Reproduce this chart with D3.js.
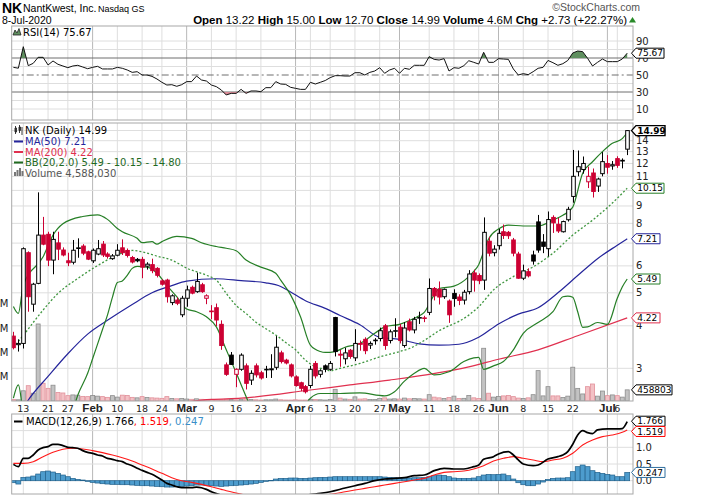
<!DOCTYPE html>
<html>
<head>
<meta charset="utf-8">
<script src="https://cdn.jsdelivr.net/npm/d3@7"></script>
<style>
body { margin: 0; background: #fff; }
svg { display: block; }
</style>
</head>
<body>
<svg id="chart" width="714" height="497"></svg>
<script>
// ---- data (NK daily, Jan 9 - Jul 8 2020) ----
const days = [
  "01-09","01-10","01-13","01-14","01-15","01-16","01-17","01-21","01-22","01-23","01-24","01-27","01-28","01-29","01-30","01-31",
  "02-03","02-04","02-05","02-06","02-07","02-10","02-11","02-12","02-13","02-14","02-18","02-19","02-20","02-21","02-24","02-25","02-26","02-27","02-28",
  "03-02","03-03","03-04","03-05","03-06","03-09","03-10","03-11","03-12","03-13","03-16","03-17","03-18","03-19","03-20","03-23","03-24","03-25","03-26","03-27","03-30","03-31",
  "04-01","04-02","04-03","04-06","04-07","04-08","04-09","04-13","04-14","04-15","04-16","04-17","04-20","04-21","04-22","04-23","04-24","04-27","04-28","04-29","04-30",
  "05-01","05-04","05-05","05-06","05-07","05-08","05-11","05-12","05-13","05-14","05-15","05-18","05-19","05-20","05-21","05-22","05-26","05-27","05-28","05-29",
  "06-01","06-02","06-03","06-04","06-05","06-08","06-09","06-10","06-11","06-12","06-15","06-16","06-17","06-18","06-19","06-22","06-23","06-24","06-25","06-26","06-29","06-30",
  "07-01","07-02","07-06","07-07","07-08"];

const opens = [
  3.73,3.52,3.55,6.56,4.63,5.33,7.39,7.43,6.24,7.01,6.68,6.21,6.15,6.75,6.86,6.60,
  6.21,6.50,6.95,6.50,6.30,6.45,6.78,6.66,6.35,6.27,6.27,5.99,6.05,5.90,5.42,5.45,4.68,4.76,4.31,
  4.82,5.19,5.04,5.28,4.82,4.42,4.52,4.04,3.07,3.28,2.88,2.98,3.05,2.77,3.05,2.91,2.97,2.97,3.02,3.33,3.17,3.07,
  2.83,2.72,2.65,2.67,3.10,2.88,3.05,2.98,4.23,3.30,3.20,3.39,3.22,3.55,3.65,3.51,3.62,3.67,4.00,3.62,3.86,
  3.96,3.50,4.11,3.89,4.22,4.21,4.38,5.15,5.12,4.87,4.73,4.98,4.86,4.76,5.04,5.72,5.62,5.45,7.09,6.56,
  6.88,7.56,7.53,7.15,6.50,5.52,5.77,6.46,8.08,7.05,6.74,8.33,7.95,7.56,8.20,9.60,11.35,11.52,10.60,11.25,10.30,11.20,
  12.00,11.80,12.40,12.20,13.22];
const highs = [
  3.84,3.65,6.80,6.62,5.35,9.87,8.36,7.56,7.56,7.56,6.80,6.56,7.15,7.23,6.95,6.65,
  6.75,7.15,7.10,6.58,6.50,6.95,7.18,6.75,6.42,6.33,6.38,6.15,6.30,5.95,5.48,5.50,4.95,4.85,4.90,
  5.25,5.25,5.73,5.35,4.95,4.60,4.65,4.15,3.12,3.35,3.00,3.32,3.10,2.96,3.10,2.95,3.05,3.30,3.73,3.38,3.20,3.10,
  2.86,2.74,2.68,3.05,3.15,2.98,3.08,3.15,4.25,3.40,3.45,3.42,3.91,3.62,3.70,3.60,3.68,3.95,4.05,3.90,4.21,
  4.05,4.10,4.20,4.25,4.40,4.28,5.51,5.20,5.40,5.15,4.78,5.12,4.95,5.10,5.83,5.85,5.70,8.33,7.30,6.90,
  7.70,7.94,7.60,7.25,6.60,6.05,5.90,6.65,8.47,7.44,8.67,8.45,8.30,8.15,8.95,13.15,13.10,12.58,11.74,11.60,10.90,12.96,
  12.70,12.20,12.60,12.42,15.00];
const lows = [
  3.41,3.36,3.43,4.40,4.40,5.30,6.90,5.99,5.67,6.24,6.40,5.99,6.06,6.34,6.45,6.24,
  6.12,6.45,6.37,6.30,6.25,6.40,6.46,6.35,6.10,6.15,5.52,5.85,5.71,5.55,5.25,4.68,4.60,4.60,4.24,
  4.55,4.95,5.00,5.00,4.63,4.18,3.99,3.40,2.85,3.07,2.64,2.95,2.60,2.68,2.82,2.78,2.81,2.81,2.97,3.10,3.08,2.82,
  2.65,2.57,2.53,2.62,2.80,2.82,2.92,2.95,3.25,3.03,3.08,3.20,3.15,3.38,3.30,3.42,3.52,3.60,3.40,3.55,3.70,
  3.55,3.45,3.85,3.80,4.05,4.10,4.30,4.75,4.62,4.80,4.08,4.55,4.60,4.62,4.95,5.04,5.30,5.10,6.40,6.40,
  6.70,7.20,7.20,6.40,5.50,5.45,5.55,6.05,6.56,6.54,6.40,7.50,7.50,7.52,8.10,9.20,11.00,11.20,10.16,9.53,9.90,11.00,
  11.20,11.50,11.65,11.61,12.70];
const closes = [
  3.45,3.55,6.74,4.87,5.30,7.39,6.95,6.24,7.18,6.72,6.46,6.13,6.67,6.78,6.54,6.28,
  6.67,6.74,6.46,6.40,6.42,6.67,6.56,6.44,6.16,6.21,5.95,6.07,5.81,5.63,5.30,4.87,4.90,4.66,4.82,
  5.10,4.99,5.40,5.04,4.90,4.40,4.16,3.50,2.88,3.08,2.98,3.28,2.71,2.90,2.87,2.81,2.98,2.99,3.46,3.14,3.11,2.85,
  2.67,2.62,2.56,2.98,2.85,2.95,2.98,3.10,3.36,3.28,3.33,3.25,3.55,3.53,3.38,3.55,3.63,3.87,3.50,3.84,3.87,
  3.62,3.94,3.89,4.18,4.23,4.22,5.15,4.90,4.86,5.12,4.31,4.81,4.75,5.02,5.68,5.45,5.43,7.53,6.54,6.72,
  7.48,7.37,7.36,6.54,5.52,5.80,5.61,6.20,6.68,6.85,8.21,8.03,7.60,8.10,8.80,11.00,11.74,12.00,11.00,9.93,10.80,12.15,
  11.70,11.90,11.85,12.26,14.99];
// volume in millions of shares
const volumes = [
  0.6,0.5,4.2,6.3,3.2,31.7,7.3,5.2,6.5,3.5,3.3,2.2,2.5,2.4,1.9,1.8,
  2.3,2.0,1.8,1.5,2.2,1.6,2.4,2.3,1.5,1.3,1.8,1.4,1.3,1.2,1.1,1.8,1.0,0.9,1.0,
  0.8,0.7,0.9,0.7,0.6,0.6,0.5,0.5,0.7,0.6,0.5,0.7,0.9,0.6,0.5,0.4,0.5,0.5,0.8,0.5,0.4,0.4,
  0.5,0.4,0.4,0.7,0.6,0.5,0.4,0.6,4.8,1.2,0.8,0.7,1.7,0.8,0.9,0.6,0.6,1.0,1.3,0.8,0.9,
  0.8,1.2,0.9,1.0,0.9,0.8,2.6,1.6,1.3,1.0,1.4,2.0,1.0,1.1,2.3,1.3,1.0,21.7,3.2,1.6,
  1.9,2.1,2.3,1.8,1.2,1.0,1.3,2.6,12.5,2.1,5.9,2.1,2.1,1.4,2.0,13.9,5.2,2.9,5.9,7.0,2.0,4.1,
  2.2,2.5,2.2,1.6,4.588];

// overlays: [bar index, value]
const ma50 = [[2,2.30],[3,2.42],[7,2.84],[11,3.31],[15,3.78],[19,4.15],[24,4.62],[28,5.00],[32,5.25],[35,5.41],[41,5.50],[46,5.43],
  [51,5.35],[54,5.22],[56,5.03],[59,4.74],[63,4.50],[66,4.29],[70,4.03],[74,3.70],[78,3.65],[82,3.54],[86,3.51],[90,3.53],
  [94,3.70],[98,4.05],[102,4.33],[106,4.52],[110,5.00],[114,5.62],[118,6.30],[122,6.90],[124,7.21]];
const ma200 = [[32,2.36],[40,2.43],[46,2.45],[60,2.59],[68,2.68],[76,2.77],[92,3.03],[98,3.19],[106,3.40],[114,3.74],[124,4.22]];
const bbUpper = [[0,4.56],[1,4.35],[2,5.26],[6,6.38],[8,7.39],[10,7.98],[14,8.38],[17,8.47],[19,8.22],[21,7.73],[22,7.56],[25,7.23],
  [26,7.02],[28,7.07],[29,6.95],[30,7.07],[32,7.28],[33,7.33],[36,7.23],[38,7.02],[41,6.84],[43,6.76],[45,6.65],[47,6.24],[50,5.95],
  [53,5.71],[54,5.45],[56,4.93],[58,4.25],[60,3.51],[62,3.36],[63,3.34],[65,3.36],[67,3.46],[70,3.55],[73,3.80],[75,3.97],[78,4.04],
  [81,4.21],[82,4.28],[83,4.38],[85,4.93],[86,5.15],[89,5.23],[92,5.58],[93,5.78],[94,6.05],[95,6.60],[96,7.20],[98,7.70],[100,7.91],
  [103,7.86],[106,7.86],[109,8.18],[111,8.45],[113,8.93],[115,11.24],[117,12.14],[119,13.00],[121,13.75],[123,14.20],[124,14.80]];
const bbMiddle = [[0,3.45],[2,3.75],[6,4.45],[9,4.98],[13,5.51],[17,6.01],[21,6.46],[24,6.66],[26,6.60],[29,6.41],[32,6.24],[35,5.91],
  [39,5.63],[41,5.45],[43,4.98],[45,4.59],[47,4.35],[49,4.10],[51,3.92],[53,3.76],[55,3.57],[57,3.40],[59,3.17],[61,3.03],[63,2.98],
  [64,2.95],[66,3.00],[70,3.10],[74,3.24],[78,3.36],[80,3.43],[82,3.55],[84,3.70],[86,3.87],[88,4.00],[90,4.12],[92,4.30],[94,4.55],
  [97,5.10],[101,5.58],[105,5.96],[109,6.54],[113,7.39],[117,8.18],[121,9.18],[124,10.15]];
const bbLower = [[0,2.45],[1,2.68],[2,2.20],[3,1.90],[7,1.70],[11,2.00],[13,2.50],[15,2.90],[16,3.20],[18,3.90],[19,4.30],[20,4.85],
  [21,5.36],[22,5.42],[23,5.63],[24,5.90],[25,5.98],[27,5.95],[29,5.71],[31,5.26],[33,4.87],[35,4.48],[37,4.40],[39,4.25],[41,3.97],
  [43,3.40],[45,2.91],[47,2.48],[48,2.30],[52,2.10],[56,2.15],[59,2.35],[60,2.45],[62,2.53],[66,2.53],[70,2.54],[75,2.49],[77,2.56],
  [79,2.75],[81,2.90],[83,3.00],[85,2.87],[88,2.93],[91,3.14],[93,3.22],[94,3.23],[95,2.98],[97,3.05],[99,3.14],[101,3.40],[103,3.80],
  [106,4.09],[109,4.40],[111,4.87],[112,4.89],[113,4.85],[114,4.40],[115,3.96],[116,3.97],[118,4.09],[120,4.04],[122,4.82],[123,5.20],[124,5.49]];

const rsi = [
  59.0,58.0,83.3,61.0,63.7,70.8,70.8,61.8,66.5,62.6,60.6,58.6,60.6,61.4,59.4,57.4,
  59.0,60.2,57.1,57.1,57.1,59.0,57.9,55.9,53.1,53.9,50.0,50.0,48.4,45.3,41.4,38.2,38.6,36.7,38.6,
  42.2,42.2,48.8,44.1,42.9,38.2,36.3,32.4,26.5,28.4,28.4,33.1,28.4,31.2,31.2,30.4,35.1,35.1,42.2,39.4,39.0,35.5,
  34.3,33.1,33.1,41.4,39.4,41.4,43.5,46.9,49.2,49.2,48.8,48.8,52.7,52.7,50.0,53.1,54.7,58.6,52.0,55.9,57.9,
  52.0,57.9,56.7,61.4,61.4,61.4,71.6,68.4,67.6,69.2,54.7,58.6,57.9,61.0,66.8,64.9,62.9,76.7,64.9,64.9,
  69.2,68.8,68.4,57.1,50.0,51.6,50.4,53.9,57.9,59.0,67.1,64.5,61.4,63.3,67.1,75.9,78.2,77.5,69.6,60.6,64.9,68.8,
  65.7,65.7,65.7,68.8,75.67];

const macd = [[0,0.49],[1,0.42],[2,0.67],[3,0.67],[4,0.77],[5,0.92],[6,0.99],[7,1.02],[8,1.09],[9,1.09],[10,1.05],[11,1.00],[12,0.99],
  [13,0.97],[14,0.90],[15,0.85],[16,0.82],[17,0.77],[18,0.74],[19,0.67],[20,0.64],[21,0.60],[22,0.57],[23,0.50],[24,0.45],[25,0.37],
  [26,0.31],[27,0.25],[28,0.19],[29,0.11],[30,0.02],[31,-0.08],[32,-0.13],[33,-0.18],[34,-0.21],[35,-0.21],[36,-0.21],[37,-0.19],
  [38,-0.21],[39,-0.26],[40,-0.33],[42,-0.43],[46,-0.58],[50,-0.60],[54,-0.52],[58,-0.45],[62,-0.38],[64,-0.33],[67,-0.22],[69,-0.15],
  [71,-0.08],[73,0.00],[75,0.05],[77,0.07],[79,0.09],[81,0.15],[83,0.17],[85,0.30],[87,0.37],[89,0.35],[91,0.35],[93,0.42],[94,0.47],
  [95,0.64],[97,0.72],[98,0.80],[100,0.87],[101,0.77],[102,0.62],[103,0.50],[105,0.45],[106,0.47],[108,0.65],[110,0.72],[111,0.77],
  [112,0.87],[113,1.09],[114,1.37],[115,1.50],[116,1.44],[117,1.41],[118,1.52],[120,1.55],[121,1.55],[122,1.55],[123,1.56],[124,1.766]];
const signal = [[0,0.52],[2,0.52],[4,0.57],[6,0.72],[8,0.85],[10,0.94],[12,0.97],[14,0.95],[16,0.90],[18,0.84],[20,0.77],[22,0.69],
  [24,0.59],[26,0.47],[28,0.35],[30,0.22],[32,0.09],[34,0.00],[36,-0.05],[38,-0.11],[40,-0.18],[42,-0.26],[43,-0.30],[46,-0.40],
  [50,-0.55],[54,-0.56],[58,-0.52],[62,-0.45],[66,-0.36],[69,-0.28],[71,-0.23],[73,-0.18],[75,-0.13],[77,-0.08],[79,-0.03],[81,0.02],
  [83,0.07],[85,0.17],[87,0.25],[89,0.27],[91,0.29],[93,0.35],[95,0.45],[97,0.59],[99,0.67],[101,0.72],[103,0.67],[105,0.62],[107,0.57],
  [109,0.62],[111,0.67],[113,0.82],[115,1.07],[117,1.22],[119,1.32],[121,1.37],[123,1.45],[124,1.519]];
const hist = [
  -0.06,-0.10,0.10,0.11,0.14,0.20,0.27,0.29,0.26,0.22,0.17,0.12,0.07,0.04,0.02,-0.02,
  -0.05,-0.07,-0.09,-0.10,-0.11,-0.11,-0.12,-0.12,-0.13,-0.14,-0.15,-0.15,-0.16,-0.17,-0.18,-0.19,-0.19,-0.18,-0.17,
  -0.16,-0.15,-0.13,-0.13,-0.14,-0.15,-0.16,-0.17,-0.16,-0.15,-0.14,-0.13,-0.12,-0.10,-0.08,-0.05,-0.02,0.01,0.05,0.07,0.07,0.08,
  0.08,0.07,0.07,0.08,0.09,0.10,0.10,0.11,0.12,0.12,0.12,0.12,0.12,0.12,0.12,0.12,0.12,0.12,0.11,0.10,0.09,
  0.08,0.08,0.08,0.09,0.09,0.10,0.12,0.15,0.17,0.16,0.12,0.08,0.07,0.07,0.07,0.08,0.12,0.17,0.19,0.18,
  0.19,0.20,0.15,0.05,-0.06,-0.12,-0.15,-0.15,-0.10,-0.04,0.04,0.07,0.08,0.08,0.09,0.27,0.42,0.47,0.42,0.30,0.25,0.22,
  0.19,0.17,0.12,0.12,0.247];

const tickDays   = ["01-13","01-21","01-27","02-03","02-10","02-18","02-24","03-02","03-09","03-16","03-23","04-01","04-06",
                    "04-13","04-20","04-27","05-01","05-11","05-18","05-26","06-01","06-08","06-15","06-22","07-01","07-06"];
const tickLabels = ["13","21","27","Feb","10","18","24","Mar","9","16","23","Apr","6",
                    "13","20","27","May","11","18","26","Jun","8","15","22","Jul","6"];
const priceGrid = [3,4,5,6,7,8,9,10,11,12,13,14,15];
const priceTicks = [3,4,5,6,8,9,11,12,13,14];   // 7, 10 and 15 sit under the value tags
const volTicks = [10,20,30,40];
const rsiTicks = [90,70,50,30,10];
const macdTicks = [1.0,0.5,0.0];                // 1.5 sits under the signal tag

// ---- layout ----
const L = 11.7, R = 633;
const rsiTop = 26, rsiBot = 120, pTop = 123, pBot = 401, mTop = 414, mBot = 494;
const VERD = "DejaVu Sans, Verdana, sans-serif";
const ARIAL = "Liberation Sans, Arial, sans-serif";
const RED = "#cc0033", NAVY = "#25259b", CRIMSON = "#e0304f", GREEN = "#267f26";

const svg = d3.select("#chart");
const x = d3.scalePoint().domain(days).range([13.4, 627.2]);
const xi = j => x(days[j]);
const yRsi = d3.scaleLinear().domain([0, 100]).range([117.5, 32.5]);
const yP = d3.scaleLog().domain([3, 14]).range([368.3, 140.7]);
const yV = d3.scaleLinear().domain([0, 40]).range([pBot, 303.8]);
const yM = d3.scaleLinear().domain([0, 1]).range([480.7, 447.3]);

const defs = svg.append("defs");
function clip(id, y0, y1) {
  defs.append("clipPath").attr("id", id).append("rect")
    .attr("x", L).attr("y", y0).attr("width", R - L).attr("height", y1 - y0);
}
clip("cR", rsiTop, rsiBot); clip("cP", pTop, pBot); clip("cM", mTop, mBot);
clip("cR70", rsiTop, yRsi(70)); clip("cR30", yRsi(30), rsiBot);

// vertical grid in every panel
function vGrid(y0, y1) {
  const g = svg.append("g");
  tickDays.forEach((d, k) => {
    const month = isNaN(+tickLabels[k]);
    g.append("line").attr("x1", x(d)).attr("x2", x(d)).attr("y1", y0).attr("y2", y1)
      .attr("stroke", month ? "#b8b8b8" : "#dedede").attr("stroke-width", 1);
  });
}
function hGrid(vals, scale, color) {
  const g = svg.append("g");
  vals.forEach(v => g.append("line").attr("x1", L).attr("x2", R).attr("y1", scale(v)).attr("y2", scale(v))
    .attr("stroke", color || "#dedede"));
}
function frame(y0, y1) {
  svg.append("rect").attr("x", L).attr("y", y0).attr("width", R - L).attr("height", y1 - y0)
    .attr("fill", "none").attr("stroke", "#a8a8a8");
}
function rightLabel(y, t) {
  svg.append("text").attr("x", 636).attr("y", y).attr("dy", "0.35em").attr("font-family", VERD)
    .attr("font-size", 10).attr("fill", "#222").text(t);
}
function tag(y, t, color, w, bold) {
  svg.append("path").attr("d", `M631.5,${y}L636,${y - 5}H${636 + w}V${y + 5}H636Z`)
    .attr("fill", "#fff").attr("stroke", color).attr("stroke-width", bold ? 1.4 : 1);
  svg.append("text").attr("x", 637.2).attr("y", y).attr("dy", "0.36em").attr("font-family", VERD)
    .attr("font-size", 9).attr("font-weight", bold ? "bold" : "normal").attr("fill", "#000").text(t);
}

// ---- header ----
const hd = svg.append("g").attr("font-family", ARIAL).attr("fill", "#000");
hd.append("text").attr("x", 2).attr("y", 13).attr("font-size", 14).attr("font-weight", "bold").text("NK");
hd.append("text").attr("x", 23).attr("y", 12).attr("font-size", 10.5).text("NantKwest, Inc.");
hd.append("text").attr("x", 98).attr("y", 12).attr("font-size", 9).text("Nasdaq GS");
hd.append("text").attr("x", 2).attr("y", 23.5).attr("font-size", 10.5).text("8-Jul-2020");
hd.append("text").attr("x", 640).attr("y", 11).attr("text-anchor", "end").attr("font-size", 10.5).attr("fill", "#555").text("\u00A9StockCharts.com");
const st = hd.append("text").attr("x", 627).attr("y", 23.5).attr("text-anchor", "end").attr("font-size", 11.5);
[["Open", " 13.22 "], ["High", " 15.00 "], ["Low", " 12.70 "], ["Close", " 14.99 "], ["Volume", " 4.6M "], ["Chg", " +2.73 (+22.27%)"]]
  .forEach(([a, b]) => { st.append("tspan").attr("font-weight", "bold").text(a); st.append("tspan").text(b); });
hd.append("path").attr("d", "M629,22.5L632.5,17L636,22.5Z").attr("fill", "#2a8a2a");

// ---- RSI panel ----
vGrid(rsiTop, rsiBot);
hGrid([80, 60, 40, 20, 10, 90], yRsi);
hGrid([70, 30], yRsi, "#6e6e6e");
svg.append("line").attr("x1", L).attr("x2", R).attr("y1", yRsi(50)).attr("y2", yRsi(50))
  .attr("stroke", "#6e6e6e").attr("stroke-dasharray", "7,3,2,3");
const rsiPts = rsi.map((v, j) => [j, v]);
const rsiG = svg.append("g").attr("clip-path", "url(#cR)");
rsiG.append("path").attr("clip-path", "url(#cR70)")
  .attr("d", d3.area().x(d => xi(d[0])).y0(yRsi(70)).y1(d => yRsi(d[1]))(rsiPts))
  .attr("fill", "#5f8f5f").attr("stroke", "none");
rsiG.append("path").attr("clip-path", "url(#cR30)")
  .attr("d", d3.area().x(d => xi(d[0])).y0(yRsi(30)).y1(d => yRsi(d[1]))(rsiPts))
  .attr("fill", "#d98a96").attr("stroke", "none");
rsiG.append("path").attr("d", d3.line().x(d => xi(d[0])).y(d => yRsi(d[1]))(rsiPts))
  .attr("fill", "none").attr("stroke", "#111").attr("stroke-width", 1);
frame(rsiTop, rsiBot);
rsiTicks.forEach(v => rightLabel(yRsi(v), v));
tag(yRsi(75.67), "75.67", "#000", 28, false);
svg.append("path").attr("d", "M13,35L15,30L17,33L19,28.5L21,35Z").attr("fill", "#5f8f5f").attr("stroke", "#222").attr("stroke-width", 0.8);
svg.append("text").attr("x", 23).attr("y", 35.5).attr("font-family", VERD).attr("font-size", 10).text("RSI(14) 75.67");

// ---- price panel ----
vGrid(pTop, pBot);
hGrid(priceGrid, yP);

const vg = svg.append("g").attr("clip-path", "url(#cP)");
volumes.forEach((v, j) => {
  const up = j === 0 ? false : closes[j] >= closes[j - 1];
  vg.append("rect").attr("x", xi(j) - 2).attr("width", 4).attr("y", yV(v)).attr("height", pBot - yV(v))
    .attr("fill", up ? "#c3c3c3" : "#f3c1c5").attr("stroke", up ? "#8d8d8d" : "#e2909a").attr("stroke-width", 0.8);
});

const pLine = d3.line().x(d => xi(d[0])).y(d => yP(d[1])).curve(d3.curveMonotoneX);
const lg = svg.append("g").attr("clip-path", "url(#cP)").attr("fill", "none");
lg.append("path").attr("d", pLine(ma200)).attr("stroke", CRIMSON).attr("stroke-width", 1.2);
lg.append("path").attr("d", pLine(ma50)).attr("stroke", NAVY).attr("stroke-width", 1.2);
lg.append("path").attr("d", pLine(bbMiddle)).attr("stroke", "#3f963f").attr("stroke-width", 1.3).attr("stroke-dasharray", "2,2");
lg.append("path").attr("d", pLine(bbUpper)).attr("stroke", GREEN).attr("stroke-width", 1.2);
lg.append("path").attr("d", pLine(bbLower)).attr("stroke", GREEN).attr("stroke-width", 1.2);

const cg = svg.append("g").attr("clip-path", "url(#cP)");
days.forEach((d, j) => {
  const o = opens[j], c = closes[j];
  const prev = j === 0 ? o : closes[j - 1];
  const col = c < prev ? RED : "#000";
  const cx = Math.round(xi(j)) + 0.5;
  cg.append("line").attr("x1", cx).attr("x2", cx).attr("y1", yP(highs[j])).attr("y2", yP(lows[j]))
    .attr("stroke", col).attr("stroke-width", 1);
  const top = yP(Math.max(o, c)), bot = yP(Math.min(o, c));
  cg.append("rect").attr("x", cx - 1.8).attr("width", 3.6).attr("y", top).attr("height", Math.max(bot - top, 0.6))
    .attr("fill", c >= o ? "#fff" : col).attr("stroke", col).attr("stroke-width", 1);
});
frame(pTop, pBot);

priceTicks.forEach(v => rightLabel(yP(v), v));
volTicks.forEach(v => svg.append("text").attr("x", 8.5).attr("y", yV(v)).attr("dy", "0.35em")
  .attr("text-anchor", "end").attr("font-family", VERD).attr("font-size", 10).attr("fill", "#222").text(v + "M"));
tag(yP(10.15), "10.15", GREEN, 28);
tag(yP(7.21), "7.21", NAVY, 24);
tag(yP(5.49), "5.49", GREEN, 24);
tag(yP(4.22), "4.22", CRIMSON, 24);
tag(yV(4.588), "458803", "#000", 36);
tag(yP(14.99), "14.99", "#000", 29, true);

// legend
const leg = svg.append("g").attr("font-family", VERD).attr("font-size", 10);
leg.append("path").attr("d", "M15.5,126V134M15,128h1.5v4h-1.5ZM19.5,125V133M19,127h1.5v3.5h-1.5ZM22,127V135")
  .attr("stroke", "#222").attr("fill", "#fff").attr("stroke-width", 0.9);
leg.append("text").attr("x", 25).attr("y", 133.5).attr("fill", "#000").text("NK (Daily) 14.99");
[["MA(50) 7.21", NAVY, 145], ["MA(200) 4.22", CRIMSON, 155.5], ["BB(20,2.0) 5.49 - 10.15 - 14.80", "#1f6a1f", 166]]
  .forEach(([t, c, y]) => {
    leg.append("line").attr("x1", 14).attr("x2", 23).attr("y1", y - 3.5).attr("y2", y - 3.5).attr("stroke", c).attr("stroke-width", 2);
    leg.append("text").attr("x", 25).attr("y", y).attr("fill", c).text(t);
  });
[[14, 4], [16.5, 6], [19, 8], [21.5, 5]].forEach(([bx, bh]) =>
  leg.append("rect").attr("x", bx).attr("y", 176 - bh).attr("width", 2).attr("height", bh).attr("fill", "#777"));
leg.append("text").attr("x", 25).attr("y", 176.5).attr("fill", "#555").text("Volume 4,588,030");

// date axis
const ax = svg.append("g").attr("fill", "#222");
tickDays.forEach((d, k) => {
  const month = isNaN(+tickLabels[k]);
  ax.append("text").attr("x", x(d)).attr("y", 411.5).attr("text-anchor", "middle")
    .attr("font-family", month ? ARIAL : VERD).attr("font-size", month ? 11.5 : 9.5)
    .attr("font-weight", month ? "bold" : "normal").text(tickLabels[k]);
});

// ---- MACD panel ----
vGrid(mTop, mBot);
hGrid([1.5, 1.0, 0.5, 0.0], yM);
const mg = svg.append("g").attr("clip-path", "url(#cM)");
hist.forEach((v, j) => {
  const y0 = yM(Math.max(v, 0)), y1 = yM(Math.min(v, 0));
  mg.append("rect").attr("x", xi(j) - 2.45).attr("width", 4.9).attr("y", y0).attr("height", Math.max(y1 - y0, 0.5))
    .attr("fill", "#4d9ccd").attr("stroke", "#21618c").attr("stroke-width", 0.7);
});
const mLine = d3.line().x(d => xi(d[0])).y(d => yM(d[1])).curve(d3.curveMonotoneX);
mg.append("path").attr("d", mLine(signal)).attr("fill", "none").attr("stroke", "#ff1a1a").attr("stroke-width", 1.1);
mg.append("path").attr("d", mLine(macd)).attr("fill", "none").attr("stroke", "#000").attr("stroke-width", 1.7);
frame(mTop, mBot);
macdTicks.forEach(v => rightLabel(yM(v), v.toFixed(1)));
tag(yM(0.247), "0.247", "#2f6f9f", 29);
tag(yM(1.766) - 0.5, "1.766", "#000", 29);
tag(yM(1.519) + 1.5, "1.519", "#ff0000", 29);
svg.append("line").attr("x1", 14).attr("x2", 22.5).attr("y1", 421.5).attr("y2", 421.5).attr("stroke", "#000").attr("stroke-width", 2);
const ml = svg.append("text").attr("x", 26).attr("y", 425).attr("font-family", VERD).attr("font-size", 10);
ml.append("tspan").attr("fill", "#000").text("MACD(12,26,9) 1.766");
ml.append("tspan").attr("fill", "#ff0000").text(", 1.519");
ml.append("tspan").attr("fill", "#3a8fc8").text(", 0.247");
</script>
</body>
</html>
